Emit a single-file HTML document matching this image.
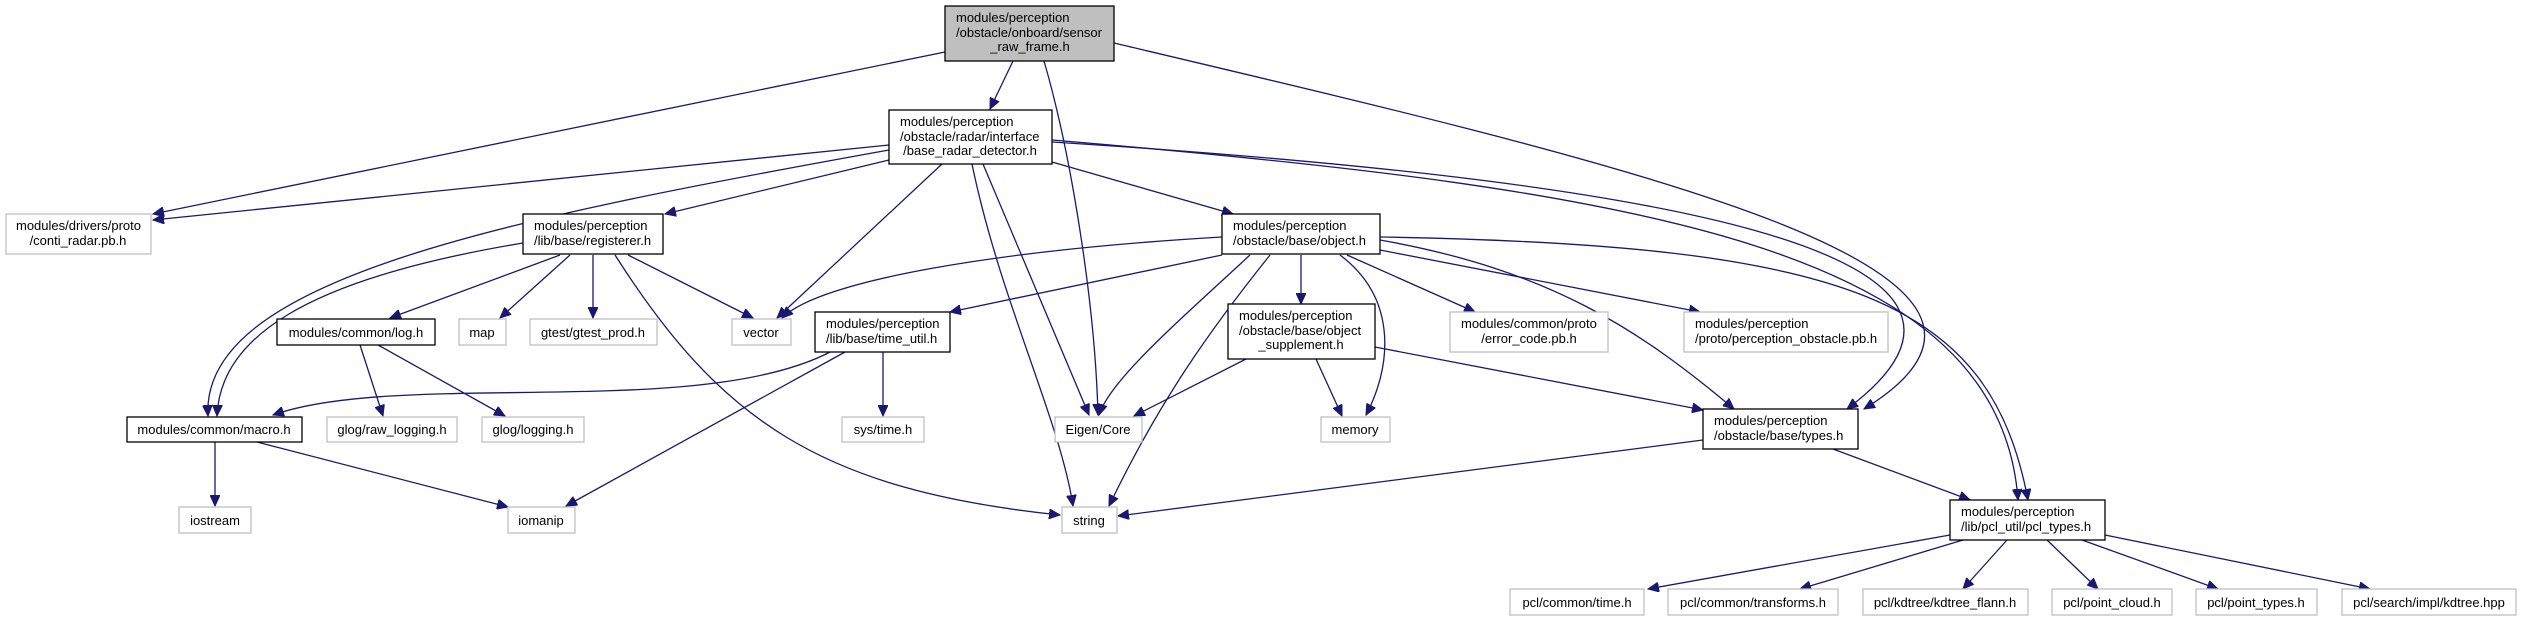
<!DOCTYPE html>
<html><head><meta charset="utf-8"><style>
html,body{margin:0;padding:0;background:#fff;}
svg{display:block;}
text{font-family:"Liberation Sans",Arial,sans-serif;font-size:13px;fill:#000;}
.e{fill:none;stroke:#191970;stroke-width:1.3;}
.bk{fill:#fff;stroke:#000;stroke-width:1.3;}
.gy{fill:#fff;stroke:#bfbfbf;stroke-width:1.3;}
</style></head><body>
<svg width="2521" height="621" viewBox="0 0 2521 621" xmlns="http://www.w3.org/2000/svg">
<defs><marker id="a" markerUnits="userSpaceOnUse" markerWidth="12" markerHeight="10" refX="11" refY="5" orient="auto"><path d="M0,0 L11,5 L0,10 z" fill="#191970" stroke="#191970"/></marker></defs>
<g marker-end="url(#a)">
<path class="e" d="M1013,61 L990,109"/>
<path class="e" d="M945,52 L153,214"/>
<path class="e" d="M1044,61 C1070,150 1095,300 1098,415"/>
<path class="e" d="M1114,43 C1650,170 2090,270 1864,409"/>
<path class="e" d="M1052,142 C1650,180 2060,250 1847,409"/>
<path class="e" d="M1052,140 C1650,190 2000,250 2018,500"/>
<path class="e" d="M889,145 L153,220"/>
<path class="e" d="M889,150 C500,220 200,280 208,416"/>
<path class="e" d="M889,160 L665,214"/>
<path class="e" d="M942,164 L777,318"/>
<path class="e" d="M972,164 C1000,300 1060,420 1073,506"/>
<path class="e" d="M983,164 L1089,415"/>
<path class="e" d="M1052,162 L1233,214"/>
<path class="e" d="M560,255 L390,318"/>
<path class="e" d="M570,255 L500,318"/>
<path class="e" d="M593,255 L593,318"/>
<path class="e" d="M628,255 L753,318"/>
<path class="e" d="M615,255 C720,420 820,490 1060,515"/>
<path class="e" d="M523,243 C300,280 220,340 217,416"/>
<path class="e" d="M1222,237 C1000,250 820,280 782,318"/>
<path class="e" d="M1222,255 L950,312"/>
<path class="e" d="M1250,255 C1180,320 1110,380 1099,415"/>
<path class="e" d="M1270,255 C1210,330 1160,400 1109,506"/>
<path class="e" d="M1301,255 L1301,304"/>
<path class="e" d="M1340,255 C1400,300 1390,370 1366,415"/>
<path class="e" d="M1347,255 L1475,312"/>
<path class="e" d="M1380,250 L1700,312"/>
<path class="e" d="M1380,240 C1550,270 1640,330 1734,409"/>
<path class="e" d="M1380,237 C1850,245 1990,300 2028,500"/>
<path class="e" d="M830,352 C700,420 400,370 273,415"/>
<path class="e" d="M845,352 L566,506"/>
<path class="e" d="M883,352 L883,416"/>
<path class="e" d="M360,345 L383,416"/>
<path class="e" d="M378,345 L505,416"/>
<path class="e" d="M215,442 L215,506"/>
<path class="e" d="M257,442 L508,507"/>
<path class="e" d="M1246,359 L1134,416"/>
<path class="e" d="M1316,359 L1342,416"/>
<path class="e" d="M1375,347 L1703,410"/>
<path class="e" d="M1703,440 L1118,516"/>
<path class="e" d="M1833,449 L1970,500"/>
<path class="e" d="M1950,535 L1648,589"/>
<path class="e" d="M1963,540 L1800,589"/>
<path class="e" d="M2007,540 L1963,589"/>
<path class="e" d="M2047,540 L2098,589"/>
<path class="e" d="M2082,540 L2218,589"/>
<path class="e" d="M2105,535 L2370,589"/>
</g>
<rect x="945" y="6" width="169" height="55" fill="#bfbfbf" stroke="#000" stroke-width="1.3"/>
<text x="956" y="22">modules/perception</text><text x="956" y="37">/obstacle/onboard/sensor</text><text x="1030" y="51" text-anchor="middle">_raw_frame.h</text>
<rect class="bk" x="889" y="110" width="163" height="54"/>
<text x="900" y="126">modules/perception</text><text x="900" y="141">/obstacle/radar/interface</text><text x="970" y="155" text-anchor="middle">/base_radar_detector.h</text>
<rect class="gy" x="6" y="214" width="145" height="40"/>
<text x="16" y="230">modules/drivers/proto</text><text x="78" y="245" text-anchor="middle">/conti_radar.pb.h</text>
<rect class="bk" x="523" y="214" width="140" height="40"/>
<text x="534" y="230">modules/perception</text><text x="534" y="245">/lib/base/registerer.h</text>
<rect class="bk" x="1222" y="214" width="158" height="40"/>
<text x="1233" y="230">modules/perception</text><text x="1233" y="245">/obstacle/base/object.h</text>
<rect class="bk" x="277" y="319" width="158" height="26"/><text x="356" y="337" text-anchor="middle">modules/common/log.h</text>
<rect class="gy" x="459" y="319" width="47" height="26"/><text x="482" y="337" text-anchor="middle">map</text>
<rect class="gy" x="530" y="319" width="127" height="26"/><text x="593" y="337" text-anchor="middle">gtest/gtest_prod.h</text>
<rect class="gy" x="732" y="319" width="59" height="26"/><text x="761" y="337" text-anchor="middle">vector</text>
<rect class="bk" x="815" y="312" width="135" height="40"/>
<text x="826" y="328">modules/perception</text><text x="826" y="343">/lib/base/time_util.h</text>
<rect class="bk" x="1228" y="304" width="147" height="55"/>
<text x="1239" y="320">modules/perception</text><text x="1239" y="335">/obstacle/base/object</text><text x="1301" y="349" text-anchor="middle">_supplement.h</text>
<rect class="gy" x="1450" y="312" width="158" height="40"/>
<text x="1461" y="328">modules/common/proto</text><text x="1529" y="343" text-anchor="middle">/error_code.pb.h</text>
<rect class="gy" x="1684" y="312" width="204" height="40"/>
<text x="1695" y="328">modules/perception</text><text x="1695" y="343">/proto/perception_obstacle.pb.h</text>
<rect class="bk" x="127" y="417" width="175" height="25"/><text x="214" y="434" text-anchor="middle">modules/common/macro.h</text>
<rect class="gy" x="327" y="417" width="130" height="25"/><text x="392" y="434" text-anchor="middle">glog/raw_logging.h</text>
<rect class="gy" x="482" y="417" width="102" height="25"/><text x="533" y="434" text-anchor="middle">glog/logging.h</text>
<rect class="gy" x="842" y="417" width="82" height="25"/><text x="883" y="434" text-anchor="middle">sys/time.h</text>
<rect class="gy" x="1055" y="417" width="87" height="25"/><text x="1098" y="434" text-anchor="middle">Eigen/Core</text>
<rect class="gy" x="1321" y="417" width="69" height="25"/><text x="1355" y="434" text-anchor="middle">memory</text>
<rect class="bk" x="1703" y="409" width="155" height="40"/>
<text x="1714" y="425">modules/perception</text><text x="1714" y="440">/obstacle/base/types.h</text>
<rect class="gy" x="179" y="507" width="72" height="26"/><text x="215" y="525" text-anchor="middle">iostream</text>
<rect class="gy" x="508" y="507" width="67" height="26"/><text x="541" y="525" text-anchor="middle">iomanip</text>
<rect class="gy" x="1062" y="507" width="55" height="26"/><text x="1089" y="525" text-anchor="middle">string</text>
<rect class="bk" x="1950" y="500" width="155" height="40"/>
<text x="1961" y="516">modules/perception</text><text x="1961" y="531">/lib/pcl_util/pcl_types.h</text>
<rect class="gy" x="1510" y="589" width="134" height="26"/><text x="1577" y="607" text-anchor="middle">pcl/common/time.h</text>
<rect class="gy" x="1668" y="589" width="170" height="26"/><text x="1753" y="607" text-anchor="middle">pcl/common/transforms.h</text>
<rect class="gy" x="1863" y="589" width="165" height="26"/><text x="1945" y="607" text-anchor="middle">pcl/kdtree/kdtree_flann.h</text>
<rect class="gy" x="2052" y="589" width="120" height="26"/><text x="2112" y="607" text-anchor="middle">pcl/point_cloud.h</text>
<rect class="gy" x="2196" y="589" width="121" height="26"/><text x="2256" y="607" text-anchor="middle">pcl/point_types.h</text>
<rect class="gy" x="2342" y="589" width="174" height="26"/><text x="2429" y="607" text-anchor="middle">pcl/search/impl/kdtree.hpp</text>
</svg>
</body></html>
